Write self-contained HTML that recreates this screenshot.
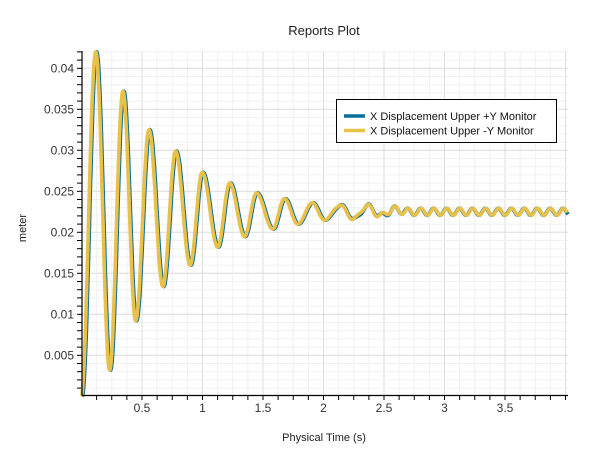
<!DOCTYPE html>
<html><head><style>
html,body{margin:0;padding:0;background:#fff;}
svg{display:block;font-family:"Liberation Sans","DejaVu Sans",sans-serif;}
</style></head><body>
<svg id="s" width="600" height="450" xmlns="http://www.w3.org/2000/svg">
<rect width="600" height="450" fill="#fff"/>
<g id="grid"></g>
<g id="ticks"></g>
<path id="pb" fill="none" stroke="#0a6e96" stroke-width="3.8" stroke-linejoin="round"/>
<path id="py" fill="none" stroke="#e8c14a" stroke-width="3.6" stroke-linejoin="round"/>
<line x1="82" y1="51" x2="82" y2="395.5" stroke="#000" stroke-width="1.2"/>
<line x1="82" y1="395.5" x2="568" y2="395.5" stroke="#000" stroke-width="1.2"/>
<text x="324" y="35" font-size="13" text-anchor="middle" fill="#222">Reports Plot</text>
<text x="324" y="441" font-size="11" text-anchor="middle" fill="#222">Physical Time (s)</text>
<text transform="translate(26,228) rotate(-90)" font-size="11" text-anchor="middle" fill="#222">meter</text>
<g id="lab" font-size="12" fill="#333"></g>
<rect x="336.5" y="99.5" width="220" height="43" fill="#fff" stroke="#000" stroke-width="1"/>
<line x1="344" y1="116" x2="365" y2="116" stroke="#0a6e96" stroke-width="3.5"/>
<line x1="344" y1="130.5" x2="365" y2="130.5" stroke="#e8c14a" stroke-width="3.5"/>
<text x="370" y="120" font-size="11" fill="#111">X Displacement Upper +Y Monitor</text>
<text x="370" y="134.5" font-size="11" fill="#111">X Displacement Upper -Y Monitor</text>
</svg>
<script>
const NS="http://www.w3.org/2000/svg";
const X=t=>81.5+121*t, Y=v=>396.3-8200*v;
function el(p,tag,a){const e=document.createElementNS(NS,tag);for(const k in a)e.setAttribute(k,a[k]);p.appendChild(e);return e;}
const g=document.getElementById('grid'),tk=document.getElementById('ticks'),lab=document.getElementById('lab');
for(let i=1;i*0.125<4.02;i++){const x=X(i*0.125);const maj=i%4==0;
 el(g,'line',{x1:x,y1:51,x2:x,y2:395,stroke:maj?'#dcdcdc':'#f0f0f0','stroke-width':1});
 el(tk,'line',{x1:x,y1:395,x2:x,y2:400,stroke:'#000','stroke-width':1});
 if(maj&&i<32){const t=el(lab,'text',{x:x,y:412,'text-anchor':'middle'});t.textContent=(i*0.125).toString();}}
for(let i=1;i<=42;i++){const y=Y(i*0.001);const maj=i%5==0;
 el(g,'line',{x1:82,y1:y,x2:568,y2:y,stroke:maj?'#dcdcdc':'#f0f0f0','stroke-width':1});
 el(tk,'line',{x1:77,y1:y,x2:82,y2:y,stroke:'#000','stroke-width':1});
 if(maj){const t=el(lab,'text',{x:74,y:y+4,'text-anchor':'end'});t.textContent=+(i*0.001).toFixed(3)+'';}}
const E=[[0,0],[0.12,0.042],[0.235,0.0032],[0.345,0.0372],[0.45,0.0092],[0.56,0.0325],[0.675,0.0134],[0.78,0.0299],[0.9,0.016],[1.0,0.0273],[1.128,0.0182],[1.227,0.026],[1.35,0.0195],[1.448,0.0248],[1.583,0.0204],[1.68,0.0241],[1.79,0.021],[1.91,0.0236],[2.01,0.0215],[2.14,0.0233],[2.25,0.0216],[2.36,0.0232],[2.47,0.022],[2.58,0.0228],[2.7,0.0225],[4.1,0.0225]];
function base(t){for(let i=0;i<E.length-1;i++){const a=E[i],b=E[i+1];if(t<=b[0]){const f=(t-a[0])/(b[0]-a[0]);const s=(1-Math.cos(Math.PI*f))/2;return a[1]+(b[1]-a[1])*s;}}return 0.0225;}
function path(off,ph){let d='';for(let t=0;t<=4.02;t+=0.004){let w=Math.min(1,Math.max(0,(t-2.0)/0.6));let v=base(t)+w*0.00042*Math.sin(2*Math.PI*t/0.107+ph);d+=(d?'L':'M')+(X(t)+off).toFixed(1)+','+Y(v).toFixed(1);}return d;}
document.getElementById('pb').setAttribute('d',path(0.6,0.6));
document.getElementById('py').setAttribute('d',path(-0.3,0));
</script>
</body></html>
